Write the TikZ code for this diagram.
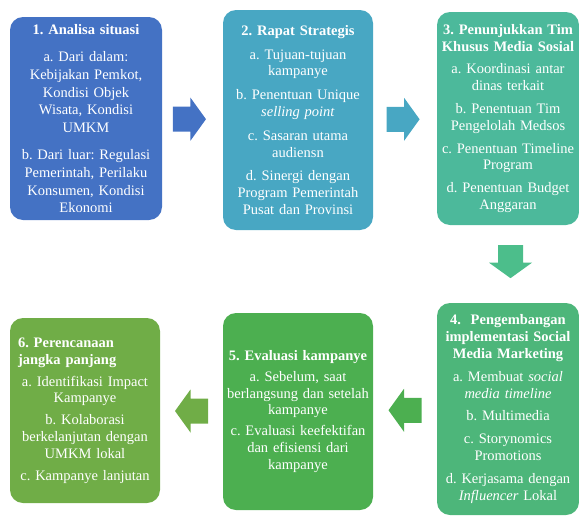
\documentclass[tikz,border=0pt]{standalone}
\usepackage{fontspec}
\setmainfont{Liberation Serif}
\usetikzlibrary{calc}
\frenchspacing
\definecolor{stepblue}{HTML}{4472C4}
\definecolor{stepteal}{HTML}{48A7C3}
\definecolor{stepmint}{HTML}{4CB99B}
\definecolor{arrowmint}{HTML}{4CBE8B}
\definecolor{stepjade}{HTML}{4DB67A}
\definecolor{stepgreen}{HTML}{4CAF50}
\definecolor{stepolive}{HTML}{70AD47}

\begin{document}
\begin{tikzpicture}[x=1pt,y=-1pt,
  every node/.style={font=\fontsize{14.5}{16.8}\selectfont},
  stepbox/.style={rounded corners=13pt,text=white,align=center,inner xsep=2pt,inner ysep=0pt},
  blockarrow/.pic={\path[pic actions] (-16.5,-12.5) -- (1,-12.5) -- (1,-21.5) -- (16.5,0)
    -- (1,21.5) -- (1,12.5) -- (-16.5,12.5) -- cycle;}]
\useasboundingbox (0,0) rectangle (579,517);

\node[stepbox,fill=stepblue,text width=148pt,minimum height=203pt,
  font=\fontsize{14.5}{17.6}\selectfont] (analisa) at (86,118.5)
  {\textbf{1. Analisa situasi}\\[10pt]
   a. Dari dalam:\\ Kebijakan Pemkot,\\ Kondisi Objek\\ Wisata, Kondisi\\ UMKM\\[10pt]
   b. Dari luar: Regulasi\\ Pemerintah, Perilaku\\ Konsumen, Kondisi\\ Ekonomi};
\node[stepbox,fill=stepteal,text width=146pt,minimum height=220pt] (rapat) at (298,120)
  {\textbf{2. Rapat Strategis}\\[7pt]
   a. Tujuan-tujuan\\ kampanye\\[7pt]
   b. Penentuan Unique\\ \textit{selling point}\\[7pt]
   c. Sasaran utama\\ audiensn\\[7pt]
   d. Sinergi dengan\\ Program Pemerintah\\ Pusat dan Provinsi};
\node[stepbox,fill=stepmint,text width=138pt,minimum height=213pt] (tim) at (508,118.5)
  {\textbf{3. Penunjukkan Tim}\\ \textbf{Khusus Media Sosial}\\[6pt]
   a. Koordinasi antar\\ dinas terkait\\[6pt]
   b. Penentuan Tim\\ Pengelolah Medsos\\[6pt]
   c. Penentuan Timeline\\ Program\\[6pt]
   d. Penentuan Budget\\ Anggaran};
\node[stepbox,fill=stepjade,text width=138pt,minimum height=212pt] (pengembangan) at (508,409)
  {\textbf{4.~ Pengembangan}\\ \textbf{implementasi Social}\\ \textbf{Media Marketing}\\[6pt]
   a. Membuat \textit{social}\\ \textit{media timeline}\\[6pt]
   b. Multimedia\\[6pt]
   c. Storynomics\\ Promotions\\[6pt]
   d. Kerjasama dengan\\ \textit{Influencer} Lokal};
\node[stepbox,fill=stepgreen,text width=146pt,minimum height=197pt] (evaluasi) at (298,411.5)
  {\textbf{5. Evaluasi kampanye}\\[4pt]
   a. Sebelum, saat\\ berlangsung dan setelah\\ kampanye\\[4pt]
   c. Evaluasi keefektifan\\ dan efisiensi dari\\ kampanye};
\node[stepbox,fill=stepolive,text width=146pt,minimum height=185pt] (perencanaan) at (85,410.5)
  {\makebox[\linewidth][l]{\hspace{6pt}\textbf{6. Perencanaan}}\\
   \makebox[\linewidth][l]{\hspace{6pt}\textbf{jangka panjang}}\\[5pt]
   a. Identifikasi Impact\\ Kampanye\\[5pt]
   b. Kolaborasi\\ berkelanjutan dengan\\ UMKM lokal\\[5pt]
   c. Kampanye lanjutan};

\pic[fill=stepblue] at ($(analisa.east)!0.45!(rapat.west)$) {blockarrow};
\pic[fill=stepteal] at ($(rapat.east)!0.47!(tim.west)$) {blockarrow};
\pic[fill=arrowmint,rotate=-90] at ($(tim.south)!0.47!(pengembangan.north)+(2.5,0)$) {blockarrow};
\pic[fill=stepgreen,rotate=180] at ($(pengembangan.west)!0.5!(evaluasi.east)$) {blockarrow};
\pic[fill=stepolive,rotate=180] at ($(evaluasi.west)!0.5!(perencanaan.east)$) {blockarrow};
\end{tikzpicture}
\end{document}
